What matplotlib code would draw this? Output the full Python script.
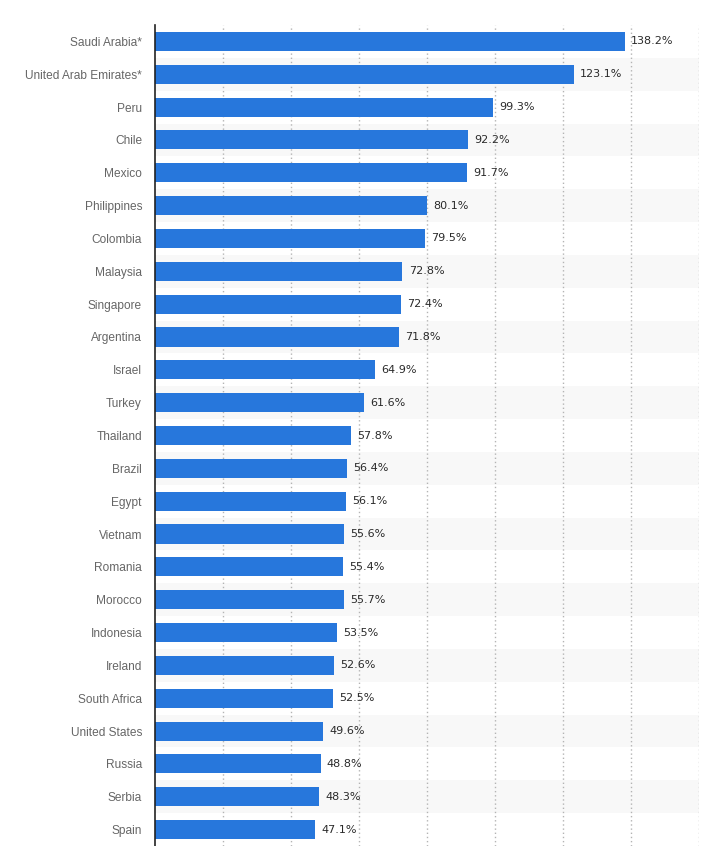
import matplotlib.pyplot as plt

countries = [
    "Saudi Arabia*", "United Arab Emirates*", "Peru", "Chile", "Mexico",
    "Philippines", "Colombia", "Malaysia", "Singapore", "Argentina",
    "Israel", "Turkey", "Thailand", "Brazil", "Egypt", "Vietnam",
    "Romania", "Morocco", "Indonesia", "Ireland", "South Africa",
    "United States", "Russia", "Serbia", "Spain",
]
shares = [
    138.2, 123.1, 99.3, 92.2, 91.7, 80.1, 79.5, 72.8, 72.4, 71.8,
    64.9, 61.6, 57.8, 56.4, 56.1, 55.6, 55.4, 55.7, 53.5, 52.6,
    52.5, 49.6, 48.8, 48.3, 47.1,
]
grid_ticks = [20, 40, 60, 80, 100, 120, 140, 160]

bar_color = "#2777dc"

fig = plt.figure(figsize=(7.22, 8.46), dpi=100)
ax = fig.add_axes([154.5 / 722, 0.0, (699.3 - 154.5) / 722, (846 - 25) / 846])

positions = list(range(len(countries)))

# light alternating row bands
for i in positions:
    if i % 2 == 1:
        ax.axhspan(i - 0.5, i + 0.5, color="#f8f8f8", zorder=0, lw=0)

for t in grid_ticks:
    ax.axvline(t, color="#b4b4b4", linestyle=(0, (1, 2)), linewidth=1.0, zorder=1)

ax.barh(positions, shares, height=0.58, color=bar_color, zorder=2)

for p, v in zip(positions, shares):
    ax.annotate(f"{v:.1f}%", xy=(v, p), xytext=(4.5, 0), textcoords="offset points",
                va="center", ha="left", fontsize=8, color="#2a2a2a", zorder=3)

ax.set_xlim(0, 160)
ax.set_ylim(len(countries) - 0.5, -0.5)
ax.set_yticks(positions)
ax.set_yticklabels(countries, fontsize=8.6, color="#666666", family="Liberation Sans")
ax.tick_params(axis="y", length=0, pad=9)
ax.set_xticks([])

for side in ["top", "right", "bottom"]:
    ax.spines[side].set_visible(False)
ax.spines["left"].set_color("#222222")
ax.spines["left"].set_linewidth(1.2)
ax.spines["left"].set_zorder(4)

fig.savefig("out.png", dpi=100)
